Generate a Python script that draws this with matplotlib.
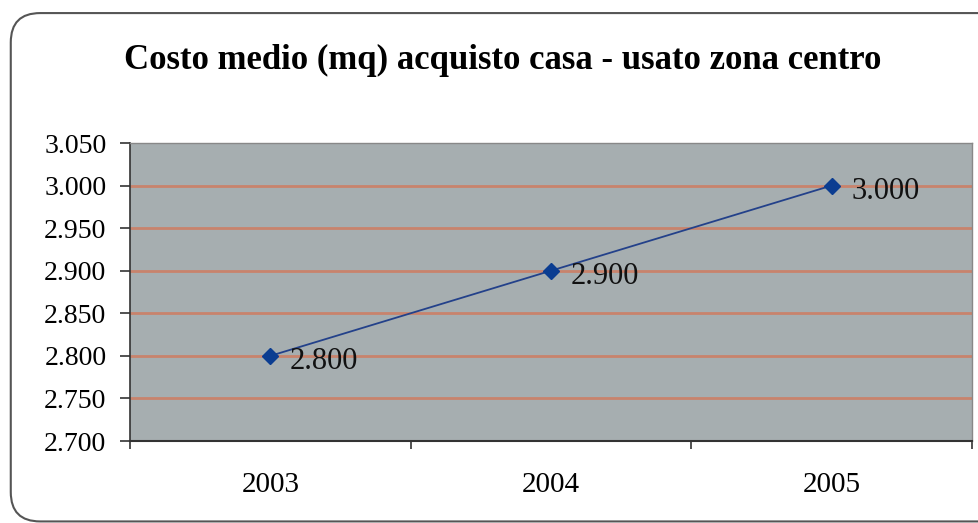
import matplotlib.pyplot as plt
from matplotlib.patches import FancyBboxPatch
from matplotlib.ticker import FuncFormatter, FixedLocator

years = ['2003', '2004', '2005']
costo = [2800, 2900, 3000]
yticks = [2700, 2750, 2800, 2850, 2900, 2950, 3000, 3050]

plt.rcParams['font.family'] = ['Liberation Serif', 'DejaVu Serif']

fig = plt.figure(figsize=(9.79, 5.23), dpi=100)
fig.patch.set_facecolor('white')

# rounded frame around the chart (cut off on right/bottom like the original)
frame = FancyBboxPatch((0.011, 0.003), 1.2, 0.972, boxstyle='round,pad=0,rounding_size=0.03',
                       transform=fig.transFigure, facecolor='white', edgecolor='#555555',
                       linewidth=1.5, mutation_aspect=979/523, zorder=-5)
fig.patches.append(frame)

ax = fig.add_axes([130/979, 1 - 441/523, (972 - 130)/979, (441 - 143)/523])
ax.set_zorder(2)
ax.set_facecolor('#a6aeb0')

x = list(range(len(years)))
ax.plot(x, costo, color='#23418a', linewidth=1.3, marker='D', markersize=8,
        markerfacecolor='#0b3d91', markeredgecolor='#0b3d91', zorder=3)

for xi, v in zip(x, costo):
    lbl = f'{v:,}'.replace(',', '.')
    ax.annotate(lbl, (xi, v), xytext=(14, -4), textcoords='offset points',
                fontsize=22, va='center', ha='left', color='#111111', zorder=4)

ax.set_ylim(2700, 3050)
ax.set_xlim(-0.5, 2.5)
ax.set_yticks(yticks)
ax.yaxis.set_major_formatter(FuncFormatter(lambda v, p: f'{int(v):,}'.replace(',', '.')))
ax.set_xticks(x)
ax.set_xticklabels(years)
ax.xaxis.set_minor_locator(FixedLocator([-0.5, 0.5, 1.5, 2.5]))
ax.tick_params(axis='x', which='major', length=0, pad=22, labelsize=21)
ax.tick_params(axis='x', which='minor', length=6, width=1.2, color='#333333')
ax.tick_params(axis='y', length=7, width=1.2, color='#333333', labelsize=20, pad=10)

for v in yticks[1:-1]:
    ax.axhline(v, color='#c8836c', linewidth=2, zorder=1)

for s in ['top', 'right']:
    ax.spines[s].set_color('#888888')
    ax.spines[s].set_linewidth(1)
ax.spines['left'].set_color('#333333')
ax.spines['bottom'].set_color('#333333')
ax.spines['left'].set_linewidth(1.2)
ax.spines['bottom'].set_linewidth(1.5)

fig.text(0.513, 1 - 60/523, 'Costo medio (mq) acquisto casa - usato zona centro',
         ha='center', va='center', fontsize=25, fontweight='bold')

fig.savefig('out.png', dpi=100)
